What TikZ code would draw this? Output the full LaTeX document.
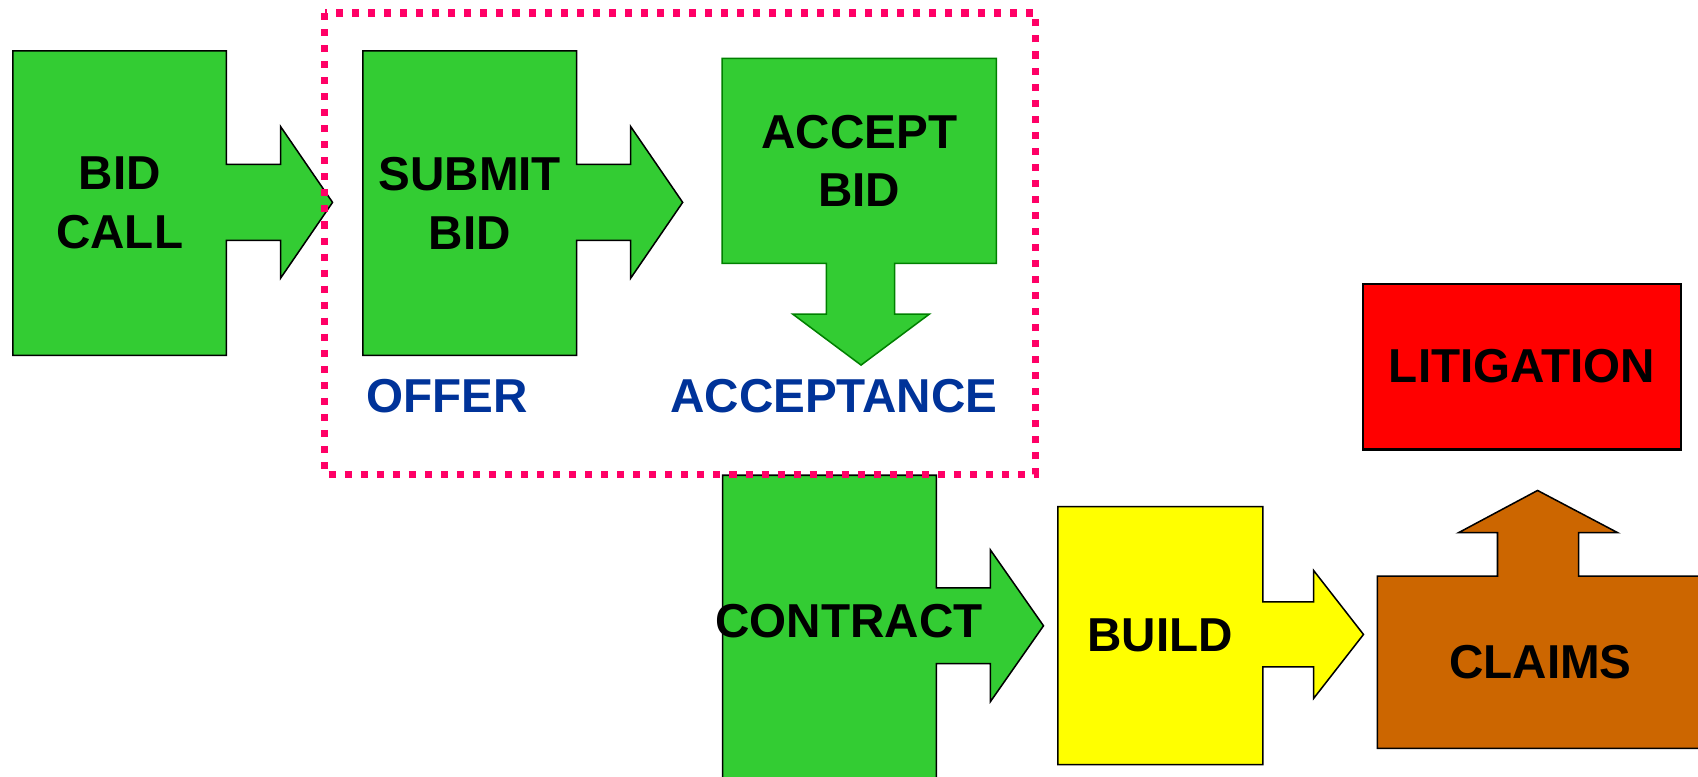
\documentclass[tikz,border=0pt]{standalone}
\usepackage{fontspec}
\setmainfont{Liberation Sans}
\usetikzlibrary{positioning}
\usetikzlibrary{calc}
\usetikzlibrary{backgrounds}

\definecolor{stagegreen}{RGB}{51,204,51}
\definecolor{edgegreen}{RGB}{0,128,0}
\definecolor{buildyellow}{RGB}{255,255,0}
\definecolor{claimbrown}{RGB}{204,102,0}
\definecolor{framepink}{RGB}{255,0,102}
\definecolor{legalblue}{RGB}{0,51,153}

\begin{document}
\begin{tikzpicture}[x=0.01cm,y=-0.01cm,semithick,
					font=\fontsize{12.5}{15.4}\selectfont\bfseries]
					\tikzstyle{every node}=[inner sep=0pt,align=center]
					\tikzstyle{stage}=[minimum width=1.95cm,minimum height=2.79cm]
					\tikzstyle{greenblock}=[draw=black,fill=stagegreen]
					\tikzstyle{legal}=[text=legalblue]
					\tikzstyle{frame}=[draw=framepink,line width=1.85pt,dash pattern=on 0.065cm off 0.083cm]
					
					\useasboundingbox (0,0) rectangle (1568,717);
					
					\node[stage]         (bidcall) at (110.5,187.5)         {BID\\CALL};
					\node[stage]         (submit)  [right=1.26cm of bidcall] {SUBMIT\\BID};
					\node[minimum width=2.51cm,minimum height=1.87cm] (accept) at (793.5,148.5) {ACCEPT\\BID};
					\node[stage,minimum height=3.2cm] (contract) at (766,600) {};
					\node                (contractlbl) at (784,574)          {CONTRACT};
					\node[minimum width=1.87cm,minimum height=2.36cm] (build) at (1071.5,587) {BUILD};
					\node[minimum width=2.99cm,minimum height=1.57cm] (claims) at (1422.5,611.5) {CLAIMS};
					\node[draw,fill=red,minimum width=2.93cm,minimum height=1.53cm] (litigation) at (1405.5,338.5) {LITIGATION};
					
					\node[legal]         (offer)      at (413,366)          {OFFER};
					\node[legal]         (acceptance) at (770,366)          {ACCEPTANCE};
					
					\begin{pgfonlayer}{background}
					% boxes with their block arrows
					\draw[greenblock] (bidcall.north west) -- (bidcall.north east) -- ++(0,105) -- ++(50,0) -- ++(0,-35)
					-- ++(48,70) -- ++(-48,70) -- ++(0,-35) -- ++(-50,0) -- (bidcall.south east) -- (bidcall.south west) -- cycle;
					\draw[greenblock] (submit.north west) -- (submit.north east) -- ++(0,105) -- ++(50,0) -- ++(0,-35)
					-- ++(48,70) -- ++(-48,70) -- ++(0,-35) -- ++(-50,0) -- (submit.south east) -- (submit.south west) -- cycle;
					\draw[greenblock,draw=edgegreen] (accept.north west) -- (accept.north east) -- (accept.south east) -- ++(-94,0) -- ++(0,47)
					-- ++(32,0) -- ++(-63,47) -- ++(-63,-47) -- ++(31,0) -- ++(0,-47) -- (accept.south west) -- cycle;
					\draw[greenblock] (contract.north west) -- (contract.north east) -- ++(0,104) -- ++(50,0) -- ++(0,-35)
					-- ++(49,70) -- ++(-49,70) -- ++(0,-35) -- ++(-50,0) -- (contract.south east) -- (contract.south west) -- cycle;
					\draw[fill=buildyellow] (build.north west) -- (build.north east) -- ++(0,88) -- ++(47,0) -- ++(0,-29)
					-- ++(46,59) -- ++(-46,59) -- ++(0,-29) -- ++(-47,0) -- (build.south east) -- (build.south west) -- cycle;
					\draw[fill=claimbrown] (claims.south west) -- (claims.north west) -- ++(111,0) -- ++(0,-40) -- ++(-36,0)
					-- ++(73,-39) -- ++(74,39) -- ++(-36,0) -- ++(0,40) -- (claims.north east) -- (claims.south east) -- cycle;
					\end{pgfonlayer}
					
					\draw[frame] (300,12) rectangle (956,438);
\end{tikzpicture}
\end{document}
